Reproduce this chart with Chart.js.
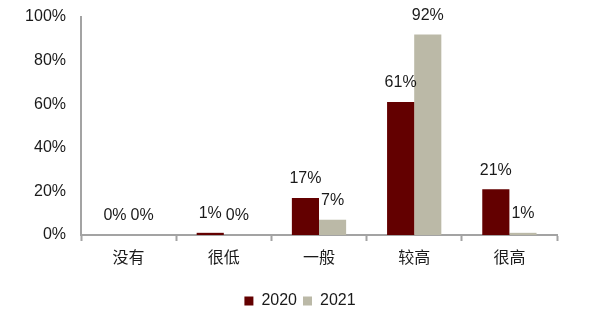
<!DOCTYPE html>
<html>
<head>
<meta charset="utf-8">
<script src="https://cdn.jsdelivr.net/npm/chart.js@4/dist/chart.umd.min.js"></script>
<style>
  html, body { margin: 0; padding: 0; background: #fff; }
  #wrap { width: 600px; height: 316px; }
</style>
</head>
<body>
<div id="wrap"><canvas id="chart"></canvas></div>
<script>
const categories = ["没有", "很低", "一般", "较高", "很高"];
const seriesNames = ["2020", "2021"];
const values2020 = [0, 1, 17, 61, 21];
const values2021 = [0, 0, 7, 92, 1];
const yTicks = [0, 20, 40, 60, 80, 100];

const FONT = "'Liberation Sans', Arial, 'Noto Sans CJK SC', sans-serif";
const CJK_FONT = "'Noto Sans CJK SC', 'Liberation Sans', sans-serif";
const AXIS_COLOR = "#a3a3a3";

// draws the value labels above each bar
const barLabels = {
    id: "barLabels",
    afterDatasetsDraw(chart) {
        const ctx = chart.ctx;
        ctx.save();
        ctx.font = "16px " + FONT;
        ctx.fillStyle = "#1a1a1a";
        ctx.textAlign = "center";
        ctx.textBaseline = "bottom";
        chart.data.datasets.forEach((ds, i) => {
            const meta = chart.getDatasetMeta(i);
            meta.data.forEach((bar, j) => {
                ctx.fillText(ds.data[j] + "%", bar.x, bar.y - 11);
            });
        });
        ctx.restore();
    }
};

new Chart(document.getElementById("chart"), {
    type: "bar",
    plugins: [barLabels],
    data: {
        labels: categories,
        datasets: [{
            label: seriesNames[0],
            data: values2020,
            backgroundColor: "#630000",
            categoryPercentage: 0.57,
            barPercentage: 1
        }, {
            label: seriesNames[1],
            data: values2021,
            backgroundColor: "#bbb9a7",
            categoryPercentage: 0.57,
            barPercentage: 1
        }]
    },
    options: {
        responsive: true,
        maintainAspectRatio: false,
        animation: false,
        layout: { padding: { top: 17, right: 0, left: 0, bottom: -3 } },
        scales: {
            x: {
                grid: {
                    display: true,
                    offset: true,
                    drawOnChartArea: false,
                    drawTicks: true,
                    tickLength: 6,
                    tickColor: AXIS_COLOR,
                    tickWidth: 2
                },
                border: { color: AXIS_COLOR, width: 2 },
                ticks: {
                    color: "#1a1a1a",
                    font: { family: CJK_FONT, size: 16 },
                    padding: 6
                },
                afterFit(scale) { scale.height = 52; }
            },
            y: {
                min: 0,
                max: 100,
                afterBuildTicks(scale) {
                    scale.ticks = yTicks.map(v => ({ value: v }));
                },
                grid: { display: false, drawTicks: false },
                border: { color: AXIS_COLOR, width: 2 },
                ticks: {
                    color: "#1a1a1a",
                    font: { family: FONT, size: 16 },
                    padding: 15,
                    callback: v => v + "%"
                },
                afterFit(scale) {
                    scale.width = 81;
                    scale.paddingTop = 0;
                    scale.paddingBottom = 0;
                }
            },
            // empty axis that only reserves the right margin
            yRight: {
                position: "right",
                display: true,
                grid: { display: false, drawTicks: false },
                border: { display: false },
                ticks: { display: false },
                afterFit(scale) { scale.width = 43; }
            }
        },
        plugins: {
            legend: {
                position: "bottom",
                labels: {
                    boxWidth: 9,
                    boxHeight: 9,
                    padding: 6,
                    color: "#1a1a1a",
                    font: { family: FONT, size: 16 }
                }
            },
            tooltip: { enabled: false }
        }
    }
});
</script>
</body>
</html>
